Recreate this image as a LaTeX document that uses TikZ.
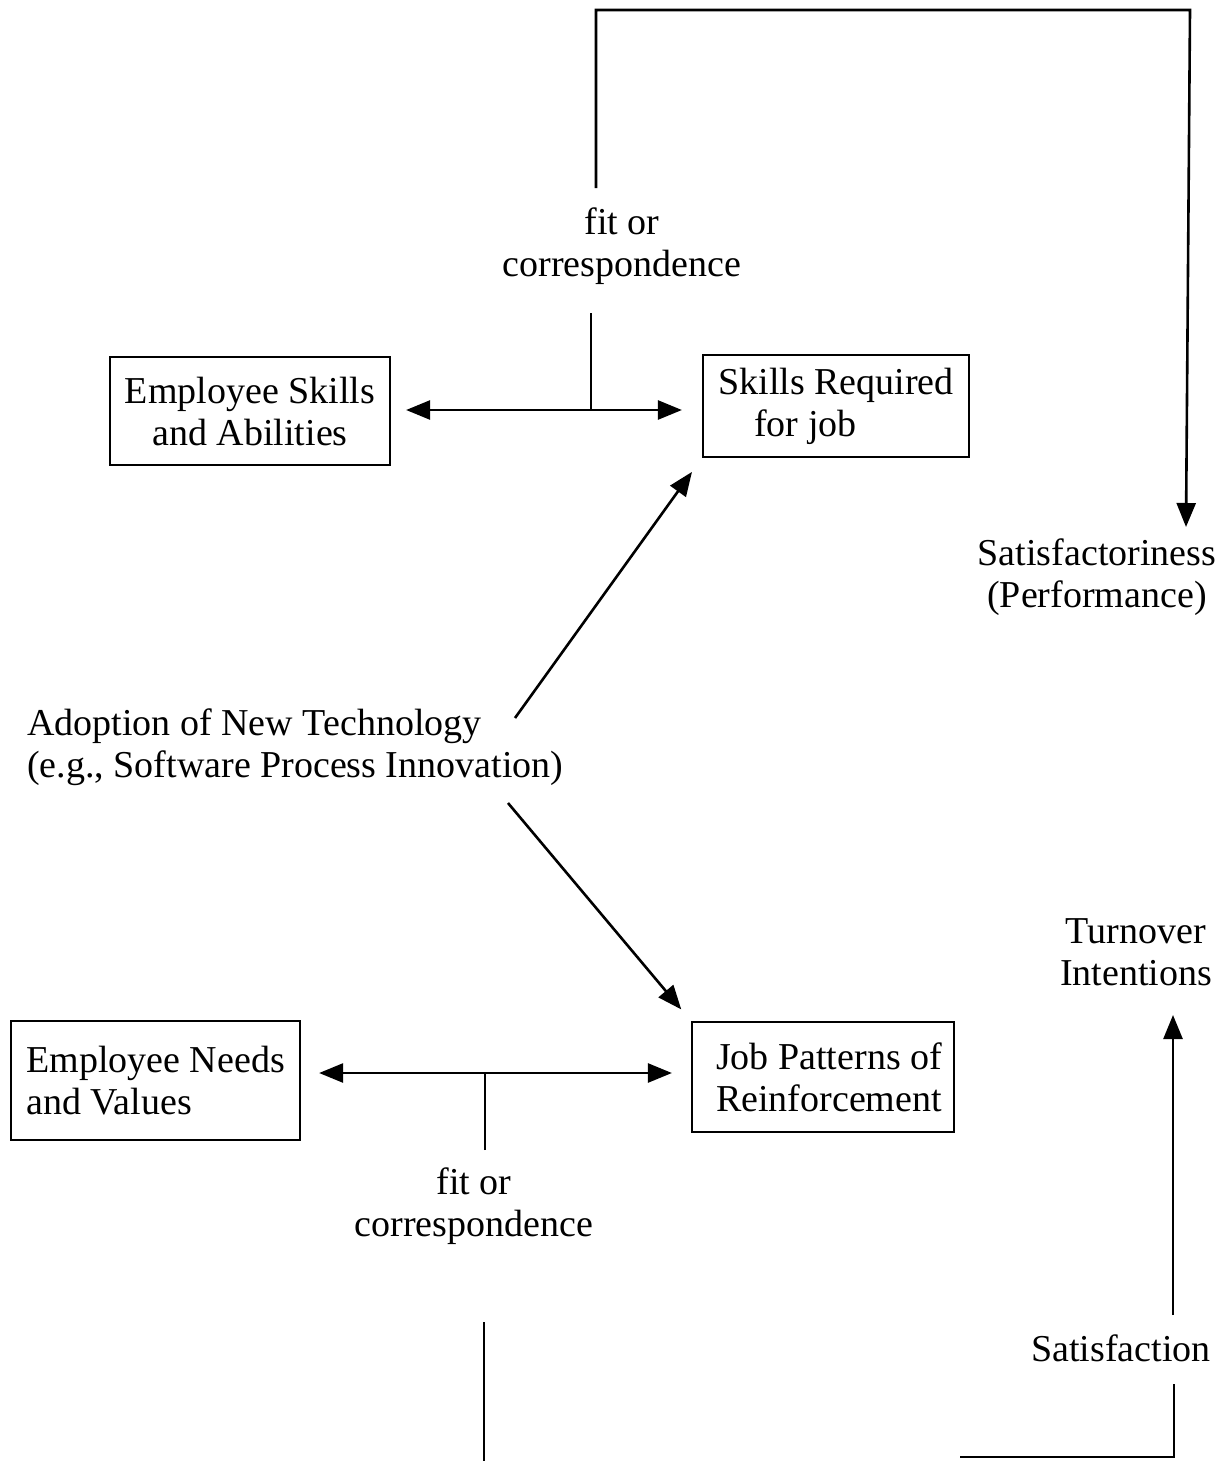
\documentclass[tikz,border=0pt]{standalone}
\usepackage{fontspec}
\setmainfont{Liberation Serif}
\usetikzlibrary{arrows.meta,calc}
\begin{document}
\begin{tikzpicture}[x=1pt,y=-1pt,
  every node/.style={font=\fontsize{38}{42}\selectfont},
  boxnode/.style={draw,line width=2.2pt,inner sep=0pt},
  conn/.style={line width=2.6pt},
  tip/.style={-{Triangle[length=24pt,width=19pt]}},
  dtip/.style={{Triangle[length=24pt,width=19pt]}-{Triangle[length=24pt,width=19pt]}}]
\useasboundingbox (0,0) rectangle (1226,1461);
% boxes
\node[boxnode,minimum width=280pt,minimum height=108pt,align=center] (esa) at (250,411) {Employee Skills\\and Abilities};
\node[boxnode,minimum width=266pt,minimum height=102pt,align=left] (srj) at (836,406) {Skills Required\\\hspace*{36pt}for job};
\node[boxnode,minimum width=289pt,minimum height=119pt,align=left] (env) at (155.5,1080.5) {Employee Needs\\and Values};
\node[boxnode,minimum width=262pt,minimum height=110pt,align=left] (jpr) at (823,1077) {\hspace*{12pt}Job Patterns of\\\hspace*{12pt}Reinforcement};
% free labels
\node[align=center] (fit1) at (622,246) {fit or\\correspondence};
\node[align=center] (fit2) at (474,1206) {fit or\\correspondence};
\node[align=left,anchor=west,inner sep=0pt] (adopt) at (27,747) {Adoption of New Technology\\(e.g., Software Process Innovation)};
\node[align=center] (satf) at (1097,577) {Satisfactoriness\\(Performance)};
\node[align=center] (turn) at (1136,952) {Turnover\\Intentions};
\node (satis) at (1121,1348) {Satisfaction};
% coordinates
\coordinate (s1) at (591,313);
\coordinate (t1) at (596,188);
\coordinate (tc) at (1190,10);
\coordinate (tt) at (1186,527);
\coordinate (a1) at (515,718);
\coordinate (a2) at (508,803);
\coordinate (s2) at (485,1150);
\coordinate (b1) at (484,1322);
\coordinate (b2) at (484,1461);
\coordinate (u1) at (1173,1315);
\coordinate (u2) at (1173,1015);
\coordinate (r1) at (1174,1384);
\coordinate (r2) at (1174,1457);
\coordinate (r3) at (960,1457);
% connectors
\draw[conn,dtip,shorten <=15pt,shorten >=20pt] ([yshift=1pt]esa.east) -- ([yshift=1pt]esa.east -| srj.west);
\draw[conn] (s1) -- (s1 |- esa.east);
\draw[conn,tip] (t1) |- (tc) -- (tt);
\draw[conn,tip,shorten >=17pt] (a1) -- (srj.south west);
\draw[conn,tip,shorten >=15pt] (a2) -- (jpr.north west);
\draw[conn,dtip,shorten <=18pt,shorten >=19pt] ([yshift=7.5pt]env.east) -- ([yshift=7.5pt]env.east -| jpr.west);
\draw[conn] (s2) -- (s2 |- 0,1073);
\draw[conn] (b1) -- (b2);
\draw[conn,tip] (u1) -- (u2);
\draw[conn] (r1) -- (r2) -- (r3);
\end{tikzpicture}
\end{document}
